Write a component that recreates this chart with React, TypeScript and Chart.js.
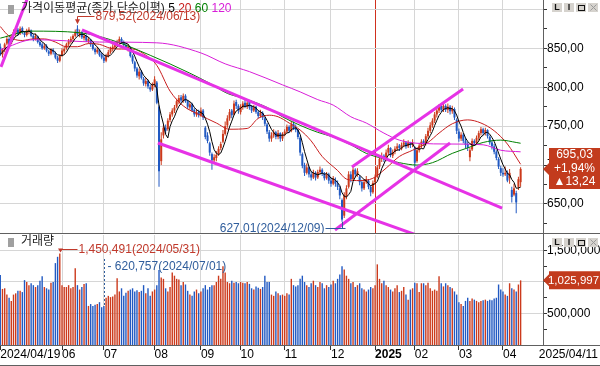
import React, { useEffect, useRef } from 'react';
import { Chart, registerables } from 'chart.js';

Chart.register(...registerables);

const FONT = '"Liberation Sans", "Noto Sans CJK KR", Arial, sans-serif';

// ---- daily candles, 2024/04/19 .. 2025/04/11 (237 trading days) ----
const opens = [
  852, 842, 848, 856, 862, 856, 866, 870, 874, 869,
  876, 870, 867, 872, 873, 866, 862, 865, 858, 855,
  850, 853, 846, 843, 848, 844, 838, 834, 841, 846,
  850, 855, 858, 862, 866, 875, 867, 871, 863, 866,
  859, 861, 855, 849, 845, 848, 842, 838, 834, 840,
  845, 849, 851, 855, 858, 862, 858, 854, 849, 851,
  840, 832, 824, 814, 820, 811, 804, 808, 800, 797,
  803, 806, 775, 705, 738, 748, 746, 758, 765, 770,
  775, 781, 787, 782, 789, 782, 774, 778, 771, 765,
  768, 764, 770, 748, 738, 728, 714, 706, 709, 714,
  722, 730, 740, 751, 760, 770, 765, 781, 776, 768,
  774, 780, 775, 781, 775, 770, 775, 768, 763, 767,
  760, 752, 742, 734, 738, 742, 736, 741, 734, 739,
  743, 749, 744, 753, 749, 745, 735, 714, 700, 690,
  697, 688, 684, 690, 684, 691, 694, 689, 683, 688,
  680, 676, 680, 676, 670, 655, 635, 660, 672, 688,
  682, 694, 688, 685, 678, 670, 678, 680, 672, 665,
  678, 685, 698, 708, 712, 707, 716, 722, 712, 717,
  721, 725, 721, 726, 729, 724, 729, 726, 722, 705,
  719, 725, 731, 727, 737, 744, 751, 757, 765, 770,
  776, 771, 776, 771, 775, 769, 772, 758, 743, 734,
  739, 731, 727, 710, 720, 731, 728, 735, 741, 746,
  741, 745, 736, 729, 724, 717, 708, 696, 690, 688,
  690, 683, 668, 662, 664, 672, 678,
];
const highs = [
  856, 850, 857, 866, 864, 868, 874, 877, 876, 878,
  878, 872, 875, 877, 874, 868, 869, 866, 861, 857,
  856, 855, 848, 850, 850, 846, 840, 842, 850, 852,
  857, 862, 865, 868, 874, 879.52, 874, 872, 869, 868,
  864, 862, 857, 851, 852, 849, 845, 841, 843, 848,
  852, 855, 858, 861, 865, 864, 860, 856, 855, 852,
  842, 834, 826, 824, 822, 813, 812, 810, 803, 806,
  814, 808, 777, 742, 752, 752, 760, 768, 773, 777,
  785, 790, 790, 792, 791, 784, 781, 780, 773, 772,
  771, 774, 772, 750, 742, 730, 716, 714, 718, 724,
  730, 745, 756, 764, 772, 772, 783, 784, 778, 778,
  782, 786, 784, 783, 777, 777, 776, 770, 771, 769,
  762, 754, 745, 742, 746, 744, 745, 742, 742, 746,
  752, 751, 757, 756, 752, 747, 737, 716, 703, 702,
  699, 692, 694, 692, 694, 698, 696, 691, 691, 690,
  684, 686, 684, 680, 673, 657, 665, 674, 692, 692,
  697, 696, 696, 687, 681, 682, 686, 682, 674, 680,
  688, 700, 712, 716, 714, 720, 726, 723, 720, 724,
  728, 727, 729, 733, 731, 732, 730, 733, 724, 722,
  728, 733, 733, 740, 748, 755, 760, 768, 773, 778,
  778, 780, 778, 779, 777, 776, 774, 760, 747, 742,
  741, 734, 730, 722, 734, 733, 738, 744, 749, 748,
  748, 746, 738, 732, 727, 719, 710, 699, 696, 698,
  693, 695, 672, 676, 667, 685, 697,
];
const lows = [
  840, 838, 845, 854, 852, 855, 863, 866, 866, 867,
  868, 864, 865, 868, 864, 859, 860, 856, 852, 848,
  848, 845, 840, 841, 842, 836, 831, 832, 839, 843,
  848, 853, 856, 859, 864, 866, 864, 862, 860, 858,
  856, 852, 847, 842, 843, 839, 836, 831, 832, 838,
  843, 846, 849, 852, 855, 856, 851, 848, 846, 838,
  830, 820, 812, 810, 810, 802, 801, 798, 794, 795,
  800, 778, 672, 700, 734, 740, 744, 755, 762, 767,
  773, 778, 780, 780, 780, 772, 771, 768, 762, 762,
  761, 762, 758, 733, 728, 712, 694, 703, 705, 712,
  719, 728, 738, 748, 757, 760, 764, 772, 766, 765,
  771, 773, 772, 771, 767, 768, 766, 760, 761, 758,
  750, 740, 730, 730, 735, 733, 733, 730, 731, 737,
  741, 741, 742, 745, 742, 733, 712, 696, 686, 688,
  684, 680, 682, 680, 682, 688, 686, 680, 681, 676,
  672, 674, 672, 668, 656, 627.01, 632, 656, 670, 678,
  680, 684, 685, 674, 666, 668, 676, 669, 660, 663,
  675, 683, 695, 704, 704, 705, 713, 710, 709, 714,
  718, 718, 719, 723, 721, 722, 722, 723, 697, 703,
  716, 722, 724, 725, 734, 741, 748, 754, 761, 767,
  768, 768, 768, 767, 765, 766, 758, 740, 730, 731,
  728, 722, 718, 705, 718, 725, 726, 732, 738, 738,
  738, 734, 726, 720, 714, 706, 695, 686, 685, 686,
  678, 676, 652, 660, 638, 668, 672,
];
const closes = [
  842, 848, 855, 862, 855, 865, 871, 874, 869, 875,
  871, 867, 873, 874, 866, 862, 866, 858, 854, 850,
  853, 847, 843, 848, 845, 838, 834, 840, 847, 849,
  855, 859, 862, 866, 871, 868, 870, 864, 866, 860,
  862, 855, 849, 845, 848, 841, 838, 834, 840, 845,
  849, 852, 855, 858, 862, 858, 854, 850, 852, 840,
  833, 824, 815, 820, 812, 805, 808, 801, 797, 803,
  810, 780, 692, 733, 748, 744, 757, 765, 770, 774,
  782, 786, 783, 789, 782, 775, 778, 770, 765, 768,
  764, 770, 761, 736, 731, 716, 706, 710, 713, 721,
  727, 740, 750, 760, 768, 764, 779, 776, 770, 775,
  779, 776, 780, 774, 770, 774, 768, 763, 767, 761,
  753, 743, 734, 738, 742, 736, 741, 734, 739, 743,
  749, 744, 752, 748, 745, 736, 716, 699, 690, 697,
  688, 684, 690, 684, 691, 694, 689, 683, 688, 680,
  676, 683, 676, 672, 661, 630, 661, 670, 688, 682,
  694, 688, 692, 678, 670, 678, 682, 672, 665, 677,
  684, 697, 708, 711, 707, 716, 722, 713, 717, 721,
  724, 722, 726, 729, 724, 729, 726, 729, 703, 719,
  725, 730, 727, 737, 744, 751, 757, 765, 770, 775,
  771, 776, 771, 775, 769, 772, 761, 744, 734, 739,
  731, 726, 722, 719, 731, 728, 735, 741, 746, 741,
  745, 737, 729, 724, 717, 709, 698, 690, 688, 690,
  680, 690, 659, 670, 652, 681.79, 695.03,
];
// volume in thousands of shares
const volumesK = [
  1110, 890, 900, 800, 750, 700, 800, 820, 860, 860,
  840, 1030, 1000, 950, 980, 950, 920, 950, 1020, 1090,
  920, 900, 880, 990, 1000, 1300, 1400, 1450.491, 950, 920,
  920, 950, 900, 920, 1220, 950, 880, 920, 970, 980,
  620, 650, 620, 640, 650, 680, 600, 620.757, 750, 780,
  760, 770, 800, 1060, 850, 900, 780, 830, 860, 880,
  900, 850, 870, 840, 860, 950, 820, 900, 780, 850,
  880, 950, 1190, 1070, 1050, 900, 850, 920, 1150, 1100,
  1050, 1040, 950, 1000, 960, 860, 800, 780, 850, 880,
  820, 850, 900, 950, 880, 920, 950, 950, 1000, 1100,
  1050, 1250, 1150, 1000, 980, 1020, 990, 1000, 980, 1000,
  990, 980, 1000, 970, 900, 880, 930, 910, 890, 920,
  1100, 1000, 1000, 800, 780, 850, 820, 790, 800, 780,
  820, 800, 1050, 950, 930, 950, 1050, 1100, 1000, 950,
  920, 980, 1020, 950, 920, 1000, 980, 900, 950, 920,
  960, 1020, 980, 1050, 1120, 1250, 1200, 1100, 1050, 980,
  1000, 920, 950, 980, 900, 880, 850, 880, 920, 900,
  950, 1280, 1050, 980, 1020, 950, 920, 880, 850, 900,
  950, 840, 860, 920, 800, 720, 880, 900, 990, 980,
  840, 980, 980, 950, 990, 900, 860, 880, 860, 1090,
  980, 930, 980, 950, 920, 900, 850, 800, 680, 650,
  620, 700, 750, 700, 740, 720, 700, 680, 700, 710,
  720, 700, 720, 710, 740, 750, 960, 880, 850, 800,
  780, 980, 900, 880, 850, 960, 1025.997,
];

// moving averages (index, value)
const ma20Idx = [0, 3, 6, 10, 15, 20, 25, 30, 35, 40, 45, 50, 55, 60, 65, 71, 77, 83, 90, 98, 104, 112, 117, 122, 126, 131, 136, 141, 146, 153, 157, 163, 169, 175, 181, 187, 194, 199, 205, 212, 218, 224, 230, 236];
const ma20Val = [878, 868, 862, 860, 862, 862, 858, 852, 852, 856, 855, 850, 849, 849, 843, 828, 795, 776, 765, 754, 746, 747, 760, 764, 762, 754, 745, 731, 711, 693, 682, 680, 683, 696, 711, 719, 729, 741, 753, 758, 754, 744, 727, 701];
const ma60Idx = [0, 14, 36, 50, 68, 86, 95, 103, 110, 121, 128, 136, 144, 151, 159, 166, 174, 181, 189, 196, 205, 212, 219, 227, 234, 236];
const ma60Val = [863, 872, 870, 861, 841, 818, 805, 792, 786, 774, 762, 751, 742, 736, 726, 715, 708, 703, 700, 703, 715, 722, 729, 732, 729, 728];
const ma120Idx = [0, 15, 45, 71, 91, 102, 113, 128, 136, 144, 151, 159, 166, 174, 181, 189, 204, 219, 227, 236];
const ma120Val = [848, 861, 858, 857, 844, 830, 820, 803, 794, 784, 777, 762, 754, 741, 732, 728, 727, 726, 719, 717];

// hand-drawn trend lines (start index/price -> end index/price)
const trendX1 = [0.33, 37.07, 71.5, 151.8, 159.5];
const trendY1 = [826, 873.5, 728.3, 616.6, 697.5];
const trendX2 = [13.8, 227.6, 192.6, 204.0, 209.9];
const trendY2 = [925, 644.8, 606.3, 728.3, 797.7];

// axis ticks
const monthTickIdx = [0, 28, 47, 70, 91, 109, 129, 150, 170, 188, 208, 228];
const monthTickLabels = ['2024/04/19', '06', '07', '08', '09', '10', '11', '12', '2025', '02', '03', '04'];
const priceTicks = [625, 650, 675, 700, 725, 750, 775, 800, 825, 850, 875, 900];
const priceLabelTicks = [650, 700, 750, 800, 850];
const priceGridTicks = [650, 700, 750, 800, 850, 900];
const volTicks = [250000, 500000, 750000, 1000000, 1250000, 1500000];
const volLabelTicks = [500000, 1000000, 1500000];
const volGridTicks = [500000, 1000000, 1500000];

// annotations
const peakIdx = 35;
const peakValue = 879.52;
const peakLabel = '879,52(2024/06/13)';
const lowIdx = 155;
const lowValue = 627.01;
const lowLabel = '627,01(2024/12/09)';
const volPeakIdx = 27;
const volPeakValue = 1450491;
const volPeakLabel = '1,450,491(2024/05/31)';
const volMarkIdx = 47;
const volMarkValue = 620757;
const volMarkLabel = '- 620,757(2024/07/01)';
const lastPrice = 695.03;
const lastPriceLines = ['695,03', '+1,94%', '▲13,24'];
const lastVolume = 1025997;
const lastVolumeLabel = '1,025,997';
const endDateLabel = '2025/04/11';
const yearIdx = 170;

const X_MIN = -0.12;
const X_MAX = 246.15;
const P_MIN = 612.7;
const P_MAX = 912;
const V_MAX = 1746000;

const RED = '#cc3a1c';
const BLUE = '#2159c2';
const GRID = '#d6d6d6';
const AXIS = '#606060';
const MARK = '#c23b1d';
const NOTE_RED = '#c0392b';
const NOTE_BLUE = '#2f5d9c';
const YEAR_LINE = '#d0301e';
const CLEAR = 'rgba(0,0,0,0)';

const up = closes.map((c, i) => c >= opens[i]);
const barColors = up.map((u) => (u ? RED : BLUE));

function line(ctx: CanvasRenderingContext2D, x1: number, y1: number, x2: number, y2: number) {
  ctx.beginPath();
  ctx.moveTo(x1, y1);
  ctx.lineTo(x2, y2);
  ctx.stroke();
}

function drawButtons(ctx: CanvasRenderingContext2D, top: number) {
  const xs = [552, 564, 576, 588];
  ctx.save();
  xs.forEach((x) => {
    ctx.fillStyle = '#d6d3ce';
    ctx.fillRect(x, top, 10, 9);
  });
  ctx.fillStyle = '#111';
  ctx.font = 'bold 9px ' + FONT;
  ctx.textAlign = 'center';
  ctx.textBaseline = 'middle';
  ctx.fillText('L', 557, top + 5);
  ctx.fillText('I', 569, top + 5);
  ctx.strokeStyle = '#111';
  ctx.lineWidth = 1;
  ctx.strokeRect(578.5, top + 2.5, 6, 5);
  ctx.strokeStyle = '#9a9a9a';
  line(ctx, 590.5, top + 1.5, 596.5, top + 7.5);
  line(ctx, 596.5, top + 1.5, 590.5, top + 7.5);
  ctx.restore();
}

function drawTitle(ctx: CanvasRenderingContext2D, y: number, parts: [string, string][]) {
  ctx.save();
  ctx.fillStyle = '#a0a0a0';
  ctx.fillRect(8, y - 4, 6, 9);
  ctx.font = '12px ' + FONT;
  ctx.textBaseline = 'middle';
  ctx.textAlign = 'left';
  let x = 21;
  for (const [t, c] of parts) {
    ctx.fillStyle = c;
    ctx.fillText(t, x, y);
    x += ctx.measureText(t).width;
  }
  ctx.restore();
}

function drawMarker(ctx: CanvasRenderingContext2D, yc: number, up: number, down: number) {
  ctx.fillStyle = MARK;
  ctx.beginPath();
  ctx.moveTo(543, yc);
  ctx.lineTo(549, yc - 6);
  ctx.lineTo(549, yc - up);
  ctx.lineTo(600, yc - up);
  ctx.lineTo(600, yc + down);
  ctx.lineTo(549, yc + down);
  ctx.lineTo(549, yc + 6);
  ctx.closePath();
  ctx.fill();
}

const priceDecor = {
  id: 'priceDecor',
  afterDraw(chart: any) {
    const ctx: CanvasRenderingContext2D = chart.ctx;
    const xs = chart.scales.x;
    const ys = chart.scales.y;
    ctx.save();
    ctx.lineWidth = 1;
    ctx.strokeStyle = AXIS;
    line(ctx, 543.5, 0, 543.5, chart.height);

    drawTitle(ctx, 9, [
      ['가격이동평균(종가,단순이평)', '#222'],
      [' 5', '#000'],
      [' 20', '#c81e1e'],
      [' 60', '#008000'],
      [' 120', '#d81ed8'],
    ]);
    drawButtons(ctx, 3);

    // peak note
    const px = Math.round(xs.getPixelForValue(peakIdx)) + 0.5;
    const py = ys.getPixelForValue(peakValue);
    ctx.strokeStyle = NOTE_RED;
    ctx.fillStyle = NOTE_RED;
    line(ctx, px, 16.5, px + 17, 16.5);
    line(ctx, px, 16.5, px, py - 4);
    ctx.beginPath();
    ctx.moveTo(px - 2.5, py - 6);
    ctx.lineTo(px + 2.5, py - 6);
    ctx.lineTo(px, py - 1);
    ctx.closePath();
    ctx.fill();
    ctx.font = '12px ' + FONT;
    ctx.textAlign = 'left';
    ctx.textBaseline = 'middle';
    ctx.fillText(peakLabel, px + 18, 17);

    // low note
    const lx = Math.round(xs.getPixelForValue(lowIdx)) + 0.5;
    const ly = ys.getPixelForValue(lowValue);
    const ny = Math.round(ly + 6) + 0.5;
    ctx.strokeStyle = NOTE_BLUE;
    ctx.fillStyle = NOTE_BLUE;
    line(ctx, lx - 17, ny, lx + 3, ny);
    line(ctx, lx, ny, lx, ly);
    ctx.textAlign = 'right';
    ctx.fillText(lowLabel, lx - 18, ny);

    // current price box
    const yc = ys.getPixelForValue(lastPrice);
    drawMarker(ctx, yc, 21, 20);
    ctx.fillStyle = '#fff';
    ctx.textAlign = 'center';
    ctx.fillText(lastPriceLines[0], 574.5, yc - 14);
    ctx.fillText(lastPriceLines[1], 574.5, yc);
    ctx.fillText(lastPriceLines[2], 574.5, yc + 13);
    ctx.restore();
  },
};

const volDecor = {
  id: 'volDecor',
  afterDraw(chart: any) {
    const ctx: CanvasRenderingContext2D = chart.ctx;
    const xs = chart.scales.x;
    const ys = chart.scales.y;
    const ca = chart.chartArea;
    ctx.save();
    ctx.lineWidth = 1;
    ctx.strokeStyle = AXIS;
    line(ctx, 0, 0.5, 600, 0.5);
    line(ctx, 543.5, 0, 543.5, ca.bottom);
    line(ctx, 0, ca.bottom + 0.5, 600, ca.bottom + 0.5);
    line(ctx, 0, chart.height - 0.5, 600, chart.height - 0.5);

    drawTitle(ctx, 9, [['거래량', '#222']]);
    drawButtons(ctx, 5);

    ctx.font = '12px ' + FONT;
    ctx.textBaseline = 'middle';

    // volume peak note
    const vx = Math.round(xs.getPixelForValue(volPeakIdx)) + 0.5;
    const vy = ys.getPixelForValue(volPeakValue);
    ctx.strokeStyle = NOTE_RED;
    ctx.fillStyle = NOTE_RED;
    line(ctx, vx, 16.5, vx + 17, 16.5);
    line(ctx, vx, 16.5, vx, vy - 3);
    ctx.beginPath();
    ctx.moveTo(vx - 2.5, vy - 5);
    ctx.lineTo(vx + 2.5, vy - 5);
    ctx.lineTo(vx, vy - 1);
    ctx.closePath();
    ctx.fill();
    ctx.textAlign = 'left';
    ctx.fillText(volPeakLabel, vx + 18, 16.5);

    // dashed marker
    const dx = Math.round(xs.getPixelForValue(volMarkIdx)) + 0.5;
    const dy = ys.getPixelForValue(volMarkValue);
    ctx.strokeStyle = NOTE_BLUE;
    ctx.fillStyle = NOTE_BLUE;
    ctx.setLineDash([2, 2]);
    line(ctx, dx, 26, dx, dy);
    ctx.setLineDash([]);
    ctx.fillText(volMarkLabel, dx + 3, 34);

    // last volume box
    const yv = ys.getPixelForValue(lastVolume);
    drawMarker(ctx, yv, 9, 9);
    ctx.fillStyle = '#fff';
    ctx.textAlign = 'center';
    ctx.font = '11.5px ' + FONT;
    ctx.fillText(lastVolumeLabel, 573.5, yv);

    // end date
    ctx.fillStyle = '#000';
    ctx.font = '12px ' + FONT;
    ctx.textAlign = 'right';
    ctx.fillText(endDateLabel, 598, 122);
    ctx.restore();
  },
};

function maPoints(idx: number[], val: number[]) {
  return idx.map((x, i) => ({ x, y: val[i] }));
}

function buildPriceConfig(): any {
  const wickData = highs.map((h, i) => ({ x: i, y: [lows[i], h] }));
  const bodyData = opens.map((o, i) => ({ x: i, y: [o, closes[i]] }));
  const ma5 = closes.map((_, i) => {
    const s = Math.max(0, i - 4);
    const w = closes.slice(s, i + 1);
    return { x: i, y: w.reduce((a, b) => a + b, 0) / w.length };
  });
  const lineDs = (data: any[], color: string, width: number, order: number, smooth: boolean) => ({
    type: 'line',
    data,
    borderColor: color,
    borderWidth: width,
    pointRadius: 0,
    fill: false,
    order,
    cubicInterpolationMode: smooth ? 'monotone' : 'default',
    tension: 0,
  });
  const trends = trendX1.map((x1, i) =>
    lineDs(
      [
        { x: x1, y: trendY1[i] },
        { x: trendX2[i], y: trendY2[i] },
      ],
      '#e632e6',
      3,
      0,
      false
    )
  );
  return {
    type: 'bar',
    data: {
      datasets: [
        { type: 'bar', data: wickData, backgroundColor: barColors, barThickness: 1, grouped: false, inflateAmount: 0, order: 5 },
        { type: 'bar', data: bodyData, backgroundColor: barColors, barThickness: 2, grouped: false, inflateAmount: 0, order: 4 },
        lineDs(maPoints(ma120Idx, ma120Val), '#d81ed8', 1, 2, true),
        lineDs(maPoints(ma60Idx, ma60Val), '#008000', 1, 2, true),
        lineDs(maPoints(ma20Idx, ma20Val), '#c81e1e', 1, 2, true),
        lineDs(ma5, '#000000', 1, 1, false),
        ...trends,
      ],
    },
    options: {
      responsive: false,
      animation: false,
      devicePixelRatio: 1,
      events: [],
      layout: { padding: 0 },
      plugins: { legend: { display: false }, tooltip: { enabled: false } },
      scales: {
        x: {
          type: 'linear',
          min: X_MIN,
          max: X_MAX,
          offset: false,
          ticks: { display: false },
          border: { display: false },
          grid: {
            offset: false,
            drawTicks: false,
            color: (c: any) => {
              const v = c.tick ? c.tick.value : -1;
              if (v === yearIdx) return YEAR_LINE;
              if (v === 0) return CLEAR;
              return GRID;
            },
          },
          afterBuildTicks: (s: any) => {
            s.ticks = monthTickIdx.map((v) => ({ value: v }));
          },
          afterFit: (s: any) => {
            s.height = 0;
            s.paddingLeft = 0;
            s.paddingRight = 0;
          },
        },
        y: {
          type: 'linear',
          position: 'right',
          min: P_MIN,
          max: P_MAX,
          afterBuildTicks: (s: any) => {
            s.ticks = priceTicks.map((v) => ({ value: v }));
          },
          ticks: {
            padding: 0,
            color: '#000',
            font: { family: FONT, size: 12 },
            callback: (v: number) => (priceLabelTicks.includes(v) ? v.toFixed(2).replace('.', ',') : ''),
          },
          border: { display: false },
          grid: {
            tickLength: 4,
            tickColor: '#333',
            color: (c: any) => (c.tick && priceGridTicks.includes(c.tick.value) ? GRID : CLEAR),
          },
          afterFit: (s: any) => {
            s.width = 57;
            s.paddingTop = 0;
            s.paddingBottom = 0;
          },
        },
      },
    },
    plugins: [priceDecor],
  };
}

function buildVolumeConfig(): any {
  const volData = volumesK.map((v, i) => ({ x: i, y: v * 1000 }));
  return {
    type: 'bar',
    data: {
      datasets: [
        { type: 'bar', data: volData, backgroundColor: barColors, barThickness: 1.4, grouped: false, inflateAmount: 0 },
      ],
    },
    options: {
      responsive: false,
      animation: false,
      devicePixelRatio: 1,
      events: [],
      layout: { padding: { top: 2, left: 0, right: 0, bottom: 0 } },
      plugins: { legend: { display: false }, tooltip: { enabled: false } },
      scales: {
        x: {
          type: 'linear',
          min: X_MIN,
          max: X_MAX,
          offset: false,
          border: { display: false },
          grid: {
            offset: false,
            tickLength: 5,
            tickColor: '#333',
            color: (c: any) => (c.tick && c.tick.value === 0 ? CLEAR : GRID),
          },
          afterBuildTicks: (s: any) => {
            s.ticks = monthTickIdx.map((v) => ({ value: v }));
          },
          ticks: {
            autoSkip: false,
            maxRotation: 0,
            minRotation: 0,
            align: 'start',
            padding: -1,
            color: '#000',
            callback: (_v: number, i: number) => monthTickLabels[i],
            font: (c: any) => ({
              family: FONT,
              size: 12,
              lineHeight: 1,
              weight: monthTickLabels[c.index] === '2025' ? 'bold' : 'normal',
            }),
          },
          afterFit: (s: any) => {
            s.height = 21;
            s.paddingLeft = 0;
            s.paddingRight = 0;
          },
        },
        y: {
          type: 'linear',
          position: 'right',
          min: 0,
          max: V_MAX,
          afterBuildTicks: (s: any) => {
            s.ticks = volTicks.map((v) => ({ value: v }));
          },
          ticks: {
            padding: 0,
            color: '#000',
            font: { family: FONT, size: 12 },
            callback: (v: number) => (volLabelTicks.includes(v) ? v.toLocaleString('en-US') : ''),
          },
          border: { display: false },
          grid: {
            tickLength: 4,
            tickColor: '#333',
            color: (c: any) => (c.tick && volGridTicks.includes(c.tick.value) ? GRID : CLEAR),
          },
          afterFit: (s: any) => {
            s.width = 57;
            s.paddingTop = 0;
            s.paddingBottom = 0;
          },
        },
      },
    },
    plugins: [volDecor],
  };
}

export default function App() {
  const priceRef = useRef<HTMLCanvasElement>(null);
  const volRef = useRef<HTMLCanvasElement>(null);

  useEffect(() => {
    document.body.style.margin = '0';
    const pc = new Chart(priceRef.current as HTMLCanvasElement, buildPriceConfig());
    const vc = new Chart(volRef.current as HTMLCanvasElement, buildVolumeConfig());
    return () => {
      pc.destroy();
      vc.destroy();
    };
  }, []);

  return (
    <div style={{ position: 'fixed', left: 0, top: 0, width: 600, height: 366, background: '#fff' }}>
      <canvas ref={priceRef} width={600} height={233} style={{ display: 'block', width: 600, height: 233 }} />
      <canvas ref={volRef} width={600} height={133} style={{ display: 'block', width: 600, height: 133 }} />
    </div>
  );
}
